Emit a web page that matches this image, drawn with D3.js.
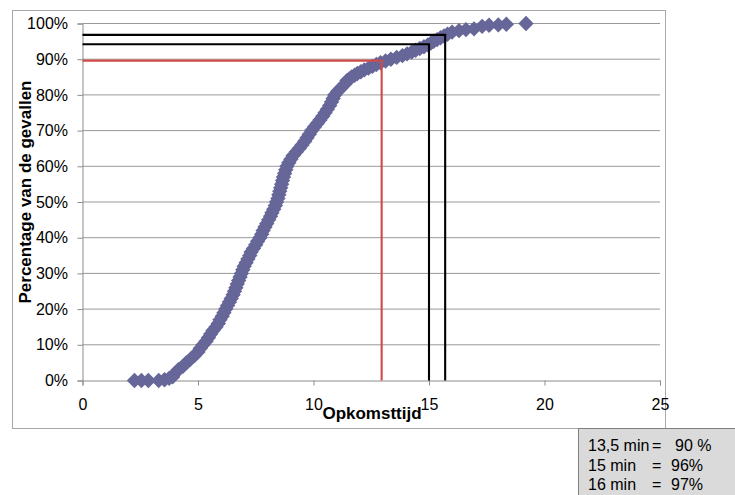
<!doctype html>
<html>

<head>
    <meta charset="UTF-8">
    <title>Opkomsttijd</title>
    <script src="https://d3js.org/d3.v7.min.js"></script>
    <style>
        body { margin: 0; background: #fff; }
        text { font-family: "Liberation Sans", Arial, sans-serif; }
    </style>
</head>

<body>
    <script>
        // opkomsttijd (minuten) en cumulatief percentage van de gevallen
        var times = [2.25, 2.55, 2.85, 3.3, 3.55, 3.75, 3.9, 4.0, 4.15, 4.35, 4.5, 4.68, 4.85, 5.0, 5.1,
            5.22, 5.35, 5.45, 5.55, 5.65, 5.78, 5.88, 5.95, 6.05, 6.12, 6.2, 6.28, 6.36, 6.44, 6.52,
            6.58, 6.64, 6.7, 6.76, 6.82, 6.88, 6.94, 7.0, 7.08, 7.16, 7.24, 7.3, 7.4, 7.5, 7.58,
            7.68, 7.76, 7.82, 7.9, 7.98, 8.06, 8.14, 8.2, 8.28, 8.35, 8.4, 8.46, 8.5, 8.54, 8.58,
            8.62, 8.66, 8.7, 8.75, 8.8, 8.85, 8.93, 9.02, 9.12, 9.25, 9.38, 9.5, 9.62, 9.72, 9.82,
            9.92, 10.04, 10.16, 10.28, 10.4, 10.5, 10.6, 10.7, 10.78, 10.85, 10.92, 11.05, 11.2, 11.35, 11.45,
            11.55, 11.65, 11.78, 11.9, 12.05, 12.2, 12.38, 12.55, 12.72, 12.9, 13.12, 13.35, 13.6, 13.85, 14.05,
            14.25, 14.42, 14.6, 14.78, 14.95, 15.08, 15.2, 15.35, 15.5, 15.65, 15.8, 16.0, 16.3, 16.6, 16.95,
            17.3, 17.6, 18.0, 18.35, 19.2];
        var pcts = [0, 0, 0, 0, 0.2, 0.6, 1, 2, 3, 4, 5, 6, 7, 8, 9,
            10, 11, 12, 13, 14, 15, 16, 17, 18, 19, 20, 21, 22, 23, 24,
            25, 26, 27, 28, 29, 30, 31, 32, 33, 34, 35, 36, 37, 38, 39,
            40, 41, 42, 43, 44, 45, 46, 47, 48, 49, 50, 51, 52, 53, 54,
            55, 56, 57, 58, 59, 60, 61, 62, 63, 64, 65, 66, 67, 68, 69,
            70, 71, 72, 73, 74, 75, 76, 77, 78, 79, 80, 81, 82, 83, 84,
            84.5, 85, 85.5, 86, 86.5, 87, 87.5, 88, 88.5, 89, 89.5, 90, 90.5, 91, 91.5,
            92, 92.5, 93, 93.5, 94, 94.5, 95, 95.5, 96, 96.5, 97, 97.6, 98, 98.3, 98.5,
            99.2, 99.5, 99.6, 99.8, 100];

        // hulplijnen (tijd, percentage)
        var refTimes = [12.95, 15.0, 15.7];
        var refPcts = [89.6, 94.2, 96.8];
        var refColors = ["#d04a48", "#000", "#000"];

        var xTicks = [0, 5, 10, 15, 20, 25];
        var yTicks = [0, 10, 20, 30, 40, 50, 60, 70, 80, 90, 100];

        var legendLabels = ["13,5 min", "15 min", "16 min"];
        var legendValues = ["90 %", "96%", "97%"];

        var W = 735, H = 495;
        var svg = d3.select("body").append("svg")
            .attr("width", W).attr("height", H);

        // rand om de grafiek
        svg.append("rect")
            .attr("x", 12.5).attr("y", 10.5)
            .attr("width", 653).attr("height", 418)
            .attr("fill", "#fff").attr("stroke", "#a8a8a8");

        var x = d3.scaleLinear().domain([0, 25]).range([82.5, 660]);
        var y = d3.scaleLinear().domain([0, 100]).range([380.5, 23.5]);

        // rasterlijnen
        svg.append("g")
            .selectAll("line")
            .data(yTicks.slice(1))
            .enter().append("line")
            .attr("x1", x(0)).attr("x2", x(25))
            .attr("y1", function (d) { return y(d); })
            .attr("y2", function (d) { return y(d); })
            .attr("stroke", "#999").attr("stroke-width", 1);

        var yAxis = svg.append("g")
            .attr("transform", "translate(" + x(0) + ",0)")
            .call(d3.axisLeft(y).tickValues(yTicks)
                .tickFormat(function (d) { return d + "%"; })
                .tickSize(5).tickPadding(9.5));

        var xAxis = svg.append("g")
            .attr("transform", "translate(0," + y(0) + ")")
            .call(d3.axisBottom(x).tickValues(xTicks)
                .tickFormat(d3.format("d"))
                .tickSize(5).tickPadding(13));

        [xAxis, yAxis].forEach(function (g) {
            g.select(".domain").attr("stroke", "#8c8c8c");
            g.selectAll(".tick line").attr("stroke", "#8c8c8c");
            g.selectAll("text")
                .attr("fill", "#000")
                .style("font-size", "16px")
                .style("font-family", "'Liberation Sans', Arial, sans-serif");
        });

        // punten
        var diamond = d3.symbol().type(d3.symbolSquare).size(118);
        svg.append("g")
            .selectAll("path")
            .data(times)
            .enter().append("path")
            .attr("d", diamond)
            .attr("transform", function (d, i) {
                return "translate(" + x(d) + "," + y(pcts[i]) + ") rotate(45)";
            })
            .attr("fill", "#666699");

        // hulplijnen
        svg.append("g")
            .selectAll("path")
            .data(refTimes)
            .enter().append("path")
            .attr("d", function (d, i) {
                return "M" + x(0) + "," + y(refPcts[i]) +
                    "H" + x(d) + "V" + y(0);
            })
            .attr("fill", "none")
            .attr("stroke", function (d, i) { return refColors[i]; })
            .attr("stroke-width", 2.1);

        // astitels
        svg.append("text")
            .attr("x", 372).attr("y", 419)
            .attr("text-anchor", "middle")
            .style("font-size", "17px").style("font-weight", "bold")
            .text("Opkomsttijd");

        svg.append("text")
            .attr("transform", "translate(31,192) rotate(-90)")
            .attr("text-anchor", "middle")
            .style("font-size", "17px").style("font-weight", "bold")
            .text("Percentage van de gevallen");

        // legenda
        svg.append("rect")
            .attr("x", 578.5).attr("y", 428.5)
            .attr("width", 170).attr("height", 80)
            .attr("fill", "#dadada").attr("stroke", "#7f7f7f");

        var rows = svg.append("g")
            .selectAll("g")
            .data(legendLabels)
            .enter().append("g")
            .attr("transform", function (d, i) { return "translate(0," + (451 + i * 19.5) + ")"; });
        rows.append("text").attr("x", 588).style("font-size", "16px")
            .text(function (d) { return d; });
        rows.append("text").attr("x", 652).style("font-size", "16px").text("=");
        rows.append("text").attr("x", function (d, i) { return i == 0 ? 675 : 671; })
            .style("font-size", "16px")
            .text(function (d, i) { return legendValues[i]; });
    </script>

</body>

</html>
